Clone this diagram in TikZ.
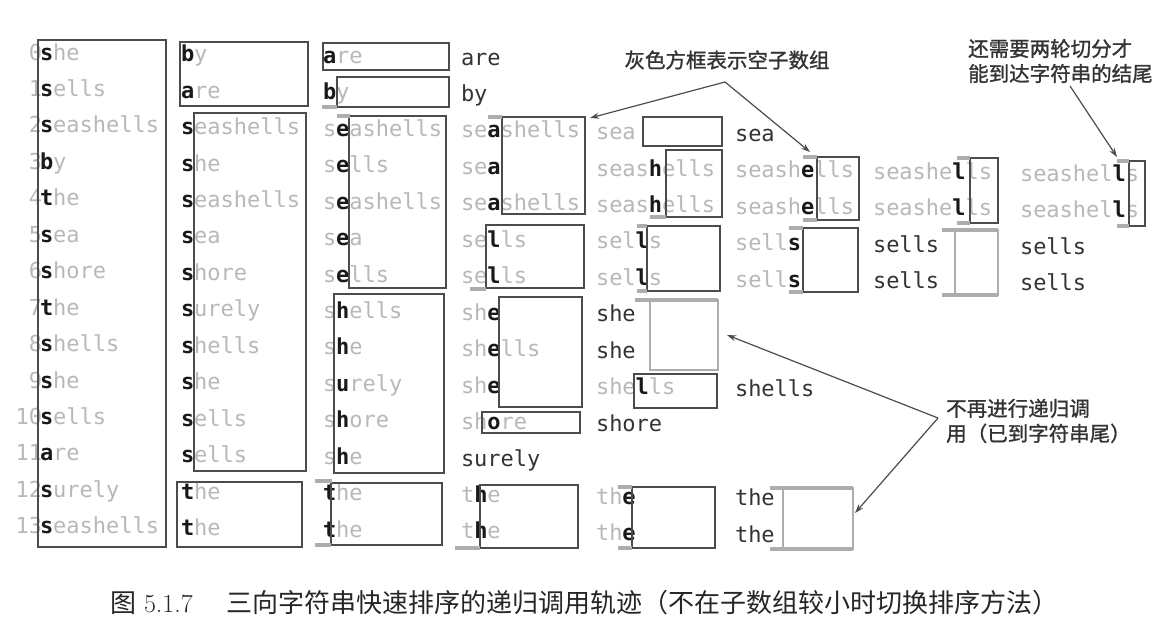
\documentclass[tikz,border=0pt]{standalone}
\usepackage{fontspec}
\setmonofont{DejaVu Sans Mono}
\newfontfamily\cjk{Noto Sans CJK SC}
\newfontfamily\cjkb[FakeBold=1.2]{Noto Sans CJK SC}
\usetikzlibrary{arrows.meta}
\definecolor{lg}{gray}{0.72}
\definecolor{dk}{gray}{0.10}
\definecolor{fin}{gray}{0.20}
\definecolor{bxc}{gray}{0.30}
\definecolor{gb}{gray}{0.68}
\newcommand\wrd[6]{\node[wtxt] (#1) at ({#2},{60+36.45*(#3)+0.012*((#2)-40)}) {\textcolor{lg}{#4}\textcolor{dk}{\bfseries #5}\textcolor{lg}{#6}};}
\newcommand\fwd[4]{\node[wtxt,text=fin] (#1) at ({#2},{60+36.45*(#3)+0.012*((#2)-40)}) {#4};}
\begin{document}
\begin{tikzpicture}[x=1pt,y=-1pt,
 wtxt/.style={anchor=base west,inner sep=0pt,outer sep=0pt,font=\ttfamily\fontsize{22}{22}\selectfont},
 numtxt/.style={anchor=base east,inner sep=0pt,outer sep=0pt,font=\ttfamily\fontsize{22}{22}\selectfont,text=lg},
 bx/.style={draw=bxc,line width=1.8pt},
 gbar/.style={draw=gb,line width=4.5pt},
 gbox/.style={draw=gb,line width=1.2pt},
 cjkt/.style={font=\cjkb\fontsize{20.5}{25}\selectfont,text=black!80,inner sep=0pt,align=left},
 arr/.style={draw=black!70,line width=1.2pt,-{Stealth[length=9pt,width=6pt]}}]
\fill[white] (0,0) rectangle (1170,627);
\useasboundingbox (0,0) rectangle (1170,627);
% index numbers
\foreach \i in {0,...,13}{\node[numtxt] (n\i) at (42,{60+36.45*\i}) {\i};}
% column 1
\wrd{a0}{40}{0}{}{s}{he}
\wrd{a1}{40}{1}{}{s}{ells}
\wrd{a2}{40}{2}{}{s}{eashells}
\wrd{a3}{40}{3}{}{b}{y}
\wrd{a4}{40}{4}{}{t}{he}
\wrd{a5}{40}{5}{}{s}{ea}
\wrd{a6}{40}{6}{}{s}{hore}
\wrd{a7}{40}{7}{}{t}{he}
\wrd{a8}{40}{8}{}{s}{hells}
\wrd{a9}{40}{9}{}{s}{he}
\wrd{a10}{40}{10}{}{s}{ells}
\wrd{a11}{40}{11}{}{a}{re}
\wrd{a12}{40}{12}{}{s}{urely}
\wrd{a13}{40}{13}{}{s}{eashells}
% column 2
\wrd{b0}{181}{0}{}{b}{y}
\wrd{b1}{181}{1}{}{a}{re}
\wrd{b2}{181}{2}{}{s}{eashells}
\wrd{b3}{181}{3}{}{s}{he}
\wrd{b4}{181}{4}{}{s}{eashells}
\wrd{b5}{181}{5}{}{s}{ea}
\wrd{b6}{181}{6}{}{s}{hore}
\wrd{b7}{181}{7}{}{s}{urely}
\wrd{b8}{181}{8}{}{s}{hells}
\wrd{b9}{181}{9}{}{s}{he}
\wrd{b10}{181}{10}{}{s}{ells}
\wrd{b11}{181}{11}{}{s}{ells}
\wrd{b12}{181}{12}{}{t}{he}
\wrd{b13}{181}{13}{}{t}{he}
% column 3
\wrd{c0}{323}{0}{}{a}{re}
\wrd{c1}{323}{1}{}{b}{y}
\wrd{c2}{323}{2}{s}{e}{ashells}
\wrd{c3}{323}{3}{s}{e}{lls}
\wrd{c4}{323}{4}{s}{e}{ashells}
\wrd{c5}{323}{5}{s}{e}{a}
\wrd{c6}{323}{6}{s}{e}{lls}
\wrd{c7}{323}{7}{s}{h}{ells}
\wrd{c8}{323}{8}{s}{h}{e}
\wrd{c9}{323}{9}{s}{u}{rely}
\wrd{c10}{323}{10}{s}{h}{ore}
\wrd{c11}{323}{11}{s}{h}{e}
\wrd{c12}{323}{12}{}{t}{he}
\wrd{c13}{323}{13}{}{t}{he}
% column 4
\fwd{d0}{461}{0}{are}
\fwd{d1}{461}{1}{by}
\wrd{d2}{461}{2}{se}{a}{shells}
\wrd{d3}{461}{3}{se}{a}{}
\wrd{d4}{461}{4}{se}{a}{shells}
\wrd{d5}{461}{5}{se}{l}{ls}
\wrd{d6}{461}{6}{se}{l}{ls}
\wrd{d7}{461}{7}{sh}{e}{}
\wrd{d8}{461}{8}{sh}{e}{lls}
\wrd{d9}{461}{9}{sh}{e}{}
\wrd{d10}{461}{10}{sh}{o}{re}
\fwd{d11}{461}{11}{surely}
\wrd{d12}{461}{12}{t}{h}{e}
\wrd{d13}{461}{13}{t}{h}{e}
% column 5
\wrd{e2}{596}{2}{sea}{}{}
\wrd{e3}{596}{3}{seas}{h}{ells}
\wrd{e4}{596}{4}{seas}{h}{ells}
\wrd{e5}{596}{5}{sel}{l}{s}
\wrd{e6}{596}{6}{sel}{l}{s}
\fwd{e7}{596}{7}{she}
\fwd{e8}{596}{8}{she}
\wrd{e9}{596}{9}{she}{l}{ls}
\fwd{e10}{596}{10}{shore}
\wrd{e12}{596}{12}{th}{e}{}
\wrd{e13}{596}{13}{th}{e}{}
% column 6
\fwd{f2}{735}{2}{sea}
\wrd{f3}{735}{3}{seash}{e}{lls}
\wrd{f4}{735}{4}{seash}{e}{lls}
\wrd{f5}{735}{5}{sell}{s}{}
\wrd{f6}{735}{6}{sell}{s}{}
\fwd{f9}{735}{9}{shells}
\fwd{f12}{735}{12}{the}
\fwd{f13}{735}{13}{the}
% column 7
\wrd{g3}{873}{3}{seashe}{l}{ls}
\wrd{g4}{873}{4}{seashe}{l}{ls}
\fwd{g5}{873}{5}{sells}
\fwd{g6}{873}{6}{sells}
% column 8
\wrd{h3}{1020}{3}{seashel}{l}{s}
\wrd{h4}{1020}{4}{seashel}{l}{s}
\fwd{h5}{1020}{5}{sells}
\fwd{h6}{1020}{6}{sells}
% boxes column 1-2
\draw[bx] (38,40) rectangle (166,547);
\draw[bx] (180,42) rectangle (308,106);
\draw[bx] (194,113) rectangle (306,471);
\draw[bx] (177,482) rectangle (302,547);
% column 3
\draw[bx] (323,43) rectangle (449,70);
\draw[bx] (337,77) rectangle (449,107);
\draw[bx] (349,116) rectangle (446,288);
\draw[bx] (334,294) rectangle (444,473);
\draw[bx] (331,483) rectangle (442,545);
\draw[gbar] (322,107) -- (337,107);
\draw[gbar] (337,116) -- (350,116);
\draw[gbar] (315,481) -- (332,481);
\draw[gbar] (315,545) -- (331,545);
% column 4
\draw[bx] (502,117) rectangle (585,214);
\draw[bx] (486,225) rectangle (584,288);
\draw[bx] (499,297) rectangle (582,407);
\draw[bx] (482,412) rectangle (580,433);
\draw[bx] (480,485) rectangle (578,548);
\draw[gbar] (488,117) -- (502,117);
\draw[gbar] (470,289) -- (486,289);
\draw[gbar] (455,548) -- (480,548);
% column 5
\draw[bx] (643,117) rectangle (722,146);
\draw[bx] (666,150) rectangle (722,217);
\draw[bx] (647,226) rectangle (720,291);
\draw[bx] (634,374) rectangle (717,408);
\draw[bx] (632,487) rectangle (715,548);
\draw[gbar] (650,217) -- (666,217);
\draw[gbar] (637,226) -- (647,226);
\draw[gbar] (637,291) -- (647,291);
\draw[gbar] (618,487) -- (632,487);
\draw[gbar] (618,548) -- (632,548);
\draw[gbox] (650,300) rectangle (718,370);
\draw[gbar] (635,300) -- (718,300);
% column 6
\draw[bx] (817,157) rectangle (859,220);
\draw[bx] (803,228) rectangle (858,292);
\draw[gbar] (803,157) -- (817,157);
\draw[gbar] (803,220) -- (817,220);
\draw[gbar] (789,228) -- (803,228);
\draw[gbar] (789,292) -- (803,292);
\draw[gbox] (783,488) rectangle (853,549);
\draw[gbar] (770,488) -- (853,488);
\draw[gbar] (770,549) -- (853,549);
% column 7
\draw[bx] (970,158) rectangle (998,223);
\draw[gbar] (957,158) -- (970,158);
\draw[gbar] (957,223) -- (970,223);
\draw[gbox] (955,230) rectangle (998,295);
\draw[gbar] (942,230) -- (998,230);
\draw[gbar] (942,295) -- (998,295);
% column 8
\draw[bx] (1129,161) rectangle (1145,226);
\draw[gbar] (1117,161) -- (1129,161);
\draw[gbar] (1117,226) -- (1129,226);
% annotations
\node[cjkt] (ann1) at (727,60) {灰色方框表示空子数组};
\coordinate (v1) at (725,82);
\coordinate (p1) at (590,118);
\coordinate (p2) at (810,152);
\draw[arr] (v1) -- (p1);
\draw[arr] (v1) -- (p2);
\node[cjkt,anchor=west] (ann2) at (968,61) {还需要两轮切分才\\能到达字符串的结尾};
\coordinate (v2) at (1070,86);
\coordinate (p3) at (1117,157);
\draw[arr] (v2) -- (p3);
\node[cjkt,anchor=west] (ann3) at (946,421) {不再进行递归调\\用（已到字符串尾）};
\coordinate (v3) at (938,418);
\coordinate (p4) at (727,335);
\coordinate (p5) at (855,513);
\draw[arr] (v3) -- (p4);
\draw[arr] (v3) -- (p5);
% caption
\node[anchor=base west,inner sep=0pt,text=black!85] (capn) at (110,612) {\fontsize{26}{26}\selectfont{\cjk 图} 5.1.7};
\node[anchor=base west,inner sep=0pt,text=black!85] (capt) at (226,612) {\cjk\fontsize{26}{26}\selectfont 三向字符串快速排序的递归调用轨迹（不在子数组较小时切换排序方法）};
\end{tikzpicture}
\end{document}
